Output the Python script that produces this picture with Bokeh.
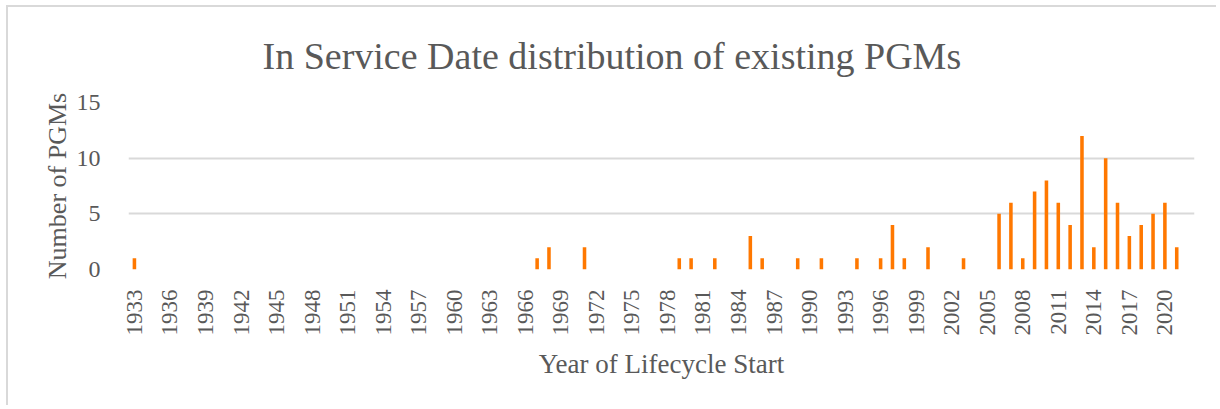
from bokeh.plotting import figure
from bokeh.models import Range1d, FixedTicker, ColumnDataSource
from bokeh.embed import file_html
from bokeh.resources import INLINE
from math import pi

# Data (years with PGMs entering service; other years are zero)
years = [1933, 1967, 1968, 1971, 1979, 1980, 1982, 1985, 1986, 1989, 1991,
         1994, 1996, 1997, 1998, 2000, 2003, 2006, 2007, 2008, 2009, 2010,
         2011, 2012, 2013, 2014, 2015, 2016, 2017, 2018, 2019, 2020, 2021]
counts = [1, 1, 2, 2, 1, 1, 1, 3, 1, 1, 1,
          1, 1, 4, 1, 2, 1, 5, 6, 1, 7, 8,
          6, 4, 12, 2, 10, 6, 3, 4, 5, 6, 2]
x_ticks = [1933, 1936, 1939, 1942, 1945, 1948, 1951, 1954, 1957, 1960, 1963,
           1966, 1969, 1972, 1975, 1978, 1981, 1984, 1987, 1990, 1993, 1996,
           1999, 2002, 2005, 2008, 2011, 2014, 2017, 2020]
y_ticks = [0, 5, 10, 15]

TITLE = "In Service Date distribution of existing PGMs"
FONT = "Liberation Serif"
TXT = "#595959"
GRID = "#d9d9d9"

W, H = 1210, 400
p = figure(width=W, height=H, output_backend="svg", toolbar_location=None,
           x_range=Range1d(1932.5, 2022.5), y_range=Range1d(0, 15),
           min_border_left=120, min_border_right=24,
           min_border_top=95, min_border_bottom=138)
p.outline_line_color = None
p.background_fill_color = "white"
p.border_fill_color = "white"
p.styles = {"border-left": "2px solid #d9d9d9", "border-top": "2px solid #d9d9d9",
            "margin-left": "6px", "margin-top": "5px"}

# Title
p.title.text = TITLE
p.title.align = "left"
p.title.offset = 134
p.title.standoff = 51
p.title.text_font = FONT
p.title.text_font_size = "38px"
p.title.text_font_style = "normal"
p.title.text_color = TXT

src = ColumnDataSource(dict(x=years, top=counts))
p.vbar(x="x", top="top", width=0.3, bottom=0, source=src,
       fill_color="#FF7800", line_color=None)

# Axes
p.xaxis.ticker = FixedTicker(ticks=x_ticks)
p.xaxis.major_label_orientation = pi / 2
p.xaxis.axis_line_color = None
p.xaxis.major_tick_line_color = None
p.xaxis.minor_tick_line_color = None
p.xaxis.major_label_standoff = 14
p.xaxis.major_label_text_font = FONT
p.xaxis.major_label_text_font_size = "23px"
p.xaxis.major_label_text_color = TXT
p.xaxis.axis_label = "Year of Lifecycle Start"
p.xaxis.axis_label_text_font = FONT
p.xaxis.axis_label_text_font_size = "27px"
p.xaxis.axis_label_text_font_style = "normal"
p.xaxis.axis_label_text_color = TXT
p.xaxis.axis_label_standoff = 10

p.yaxis.ticker = FixedTicker(ticks=y_ticks)
p.yaxis.axis_line_color = None
p.yaxis.major_tick_line_color = None
p.yaxis.minor_tick_line_color = None
p.yaxis.major_label_standoff = 22
p.yaxis.major_label_text_font = FONT
p.yaxis.major_label_text_font_size = "24px"
p.yaxis.major_label_text_color = TXT
p.yaxis.axis_label = "Number of PGMs"
p.yaxis.axis_label_text_font = FONT
p.yaxis.axis_label_text_font_size = "26px"
p.yaxis.axis_label_text_font_style = "normal"
p.yaxis.axis_label_text_color = TXT
p.yaxis.axis_label_standoff = 2

p.xgrid.grid_line_color = None
p.ygrid.grid_line_color = GRID
p.ygrid.grid_line_width = 2

open("out.html", "w").write(file_html(p, INLINE))
